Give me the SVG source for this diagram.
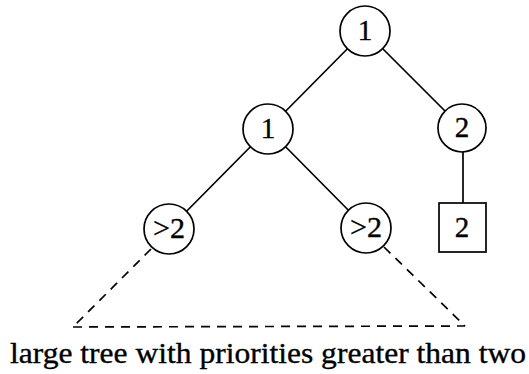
<svg xmlns="http://www.w3.org/2000/svg" width="529" height="374" viewBox="0 0 529 374">
  <style>
    .edge { stroke: #000; stroke-width: 1.7; fill: none; }
    .dash { stroke: #000; stroke-width: 1.7; fill: none; stroke-dasharray: 9 7; }
    .node { fill: #fff; stroke: #000; stroke-width: 1.7; }
    .lbl { font-family: "Liberation Serif", "Times New Roman", serif; font-size: 29px; fill: #000; stroke: #000; stroke-width: 0.35; text-anchor: middle; }
    .cap { font-family: "Liberation Serif", "Times New Roman", serif; font-size: 29px; fill: #000; stroke: #000; stroke-width: 0.35; }
  </style>
  <rect width="529" height="374" fill="#fff"/>
  <g id="connectors">
    <line class="edge" x1="365" y1="31" x2="268" y2="129"/>
    <line class="edge" x1="365" y1="31" x2="462" y2="128"/>
    <line class="edge" x1="268" y1="129" x2="169" y2="229"/>
    <line class="edge" x1="268" y1="129" x2="366" y2="228"/>
    <line class="edge" x1="463" y1="128" x2="463" y2="203"/>
    <line class="dash" x1="151" y1="249" x2="73" y2="327"/>
    <line class="dash" x1="384" y1="247" x2="465" y2="326"/>
    <line class="dash" x1="73" y1="327" x2="465" y2="326"/>
  </g>
  <g id="n-root">
    <circle class="node" cx="365" cy="31" r="25"/>
    <text class="lbl" x="365" y="40">1</text>
  </g>
  <g id="n-left">
    <circle class="node" cx="268" cy="129" r="25"/>
    <text class="lbl" x="268" y="138">1</text>
  </g>
  <g id="n-right">
    <circle class="node" cx="462" cy="128" r="24"/>
    <text class="lbl" x="462" y="137">2</text>
  </g>
  <g id="n-ll">
    <circle class="node" cx="169" cy="229" r="25"/>
    <text class="lbl" x="169" y="238" textLength="32" lengthAdjust="spacingAndGlyphs">&gt;2</text>
  </g>
  <g id="n-lr">
    <circle class="node" cx="366" cy="228" r="25"/>
    <text class="lbl" x="366" y="237" textLength="32" lengthAdjust="spacingAndGlyphs">&gt;2</text>
  </g>
  <g id="n-leaf">
    <rect class="node" x="439" y="203" width="47" height="49"/>
    <text class="lbl" x="462" y="237">2</text>
  </g>
  <g id="caption">
    <text class="cap" x="10" y="363" textLength="516" lengthAdjust="spacingAndGlyphs">large tree with priorities greater than two</text>
  </g>
</svg>
